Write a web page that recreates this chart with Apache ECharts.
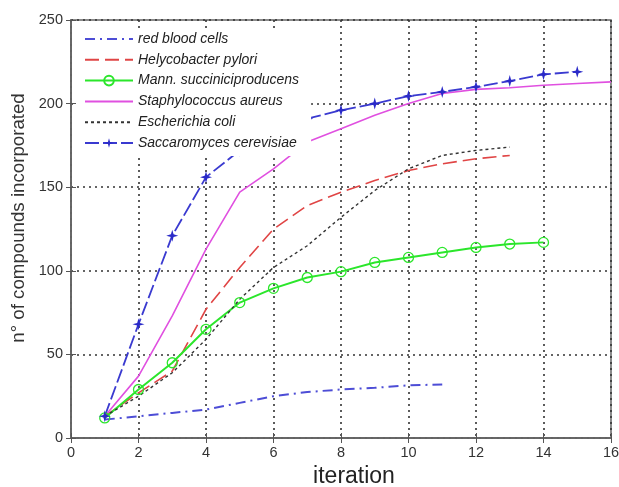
<!DOCTYPE html>
<html>
<head>
<meta charset="utf-8">
<script src="https://cdn.jsdelivr.net/npm/echarts@6/dist/echarts.min.js"></script>
<style>html,body{margin:0;padding:0;background:#fff}#c{width:619px;height:487px}</style>
</head>
<body>
<div id="c"></div>
<script>
var xTicks = [0, 2, 4, 6, 8, 10, 12, 14, 16];
var yTicks = [0, 50, 100, 150, 200, 250];
var seriesNames = ["red blood cells", "Helycobacter pylori", "Mann. succiniciproducens", "Staphylococcus aureus", "Escherichia coli", "Saccaromyces cerevisiae"];
var redBloodCells = [11, 13, 15, 17, 21, 25, 27.5, 29, 30, 31.5, 32];
var helycobacter = [13, 27, 40, 77, 102, 125, 139, 147, 154, 160, 164, 167, 169];
var mannheimia = [12, 29, 45, 65, 81, 89.5, 96, 99.5, 105, 108, 111, 114, 116, 117];
var staphylococcus = [13, 37, 73, 113, 147, 161, 177, 185, 193, 200, 206, 208.5, 209.5, 211, 212, 213];
var escherichia = [13, 25, 39, 59, 83, 102, 115, 132, 148, 161, 169, 172, 174];
var saccaromyces = [13, 68, 121, 156, 172, 183, 191, 196, 200, 204.5, 207, 210, 213.5, 217.5, 219];

function pairs(arr) { return arr.map(function (v, i) { return [i + 1, v]; }); }

var font = "'Liberation Sans', Arial, sans-serif";
var star = 'path://M0,-10 L2.2,-2.2 L10,0 L2.2,2.2 L0,10 L-2.2,2.2 L-10,0 L-2.2,-2.2 Z';
var hidden = { color: 'rgba(0,0,0,0)', borderWidth: 0 };

var chart = echarts.init(document.getElementById('c'));
chart.setOption({
  animation: false,
  backgroundColor: '#fff',
  textStyle: { fontFamily: font },
  grid: { left: 71, right: 8, top: 20, bottom: 49, show: true, borderColor: '#666', borderWidth: 1.5,
    backgroundColor: 'transparent', outerBoundsMode: 'none', containLabel: false },
  legend: {
    orient: 'vertical', left: 76, top: 28, itemWidth: 48, itemHeight: 12, itemGap: 6.8,
    backgroundColor: '#fff', padding: [4, 12, 6, 8],
    textStyle: { fontStyle: 'italic', fontSize: 14, color: '#222', fontFamily: font },
    data: seriesNames
  },
  xAxis: [{
    type: 'value', min: xTicks[0], max: xTicks[xTicks.length - 1], interval: 2,
    name: 'iteration', nameLocation: 'middle', nameGap: 26,
    nameTextStyle: { fontSize: 23, color: '#222', fontFamily: font, padding: [0, 0, 0, 26] },
    axisLine: { show: true, lineStyle: { color: '#666', width: 1.5 } },
    axisTick: { show: true, inside: true, length: 5, lineStyle: { color: '#555' } },
    axisLabel: { color: '#333', fontSize: 14.5, margin: 7 },
    splitLine: { show: true, lineStyle: { type: [2, 4], color: '#333', width: 1.6 } }
  }, {
    type: 'value', position: 'top', min: xTicks[0], max: xTicks[xTicks.length - 1], interval: 2,
    axisLine: { show: true, lineStyle: { color: '#666', width: 1.5 } },
    axisTick: { show: true, inside: true, length: 5, lineStyle: { color: '#555' } },
    axisLabel: { show: false }, splitLine: { show: false }
  }],
  yAxis: [{
    type: 'value', min: yTicks[0], max: yTicks[yTicks.length - 1], interval: 50,
    name: 'n° of compounds incorporated', nameLocation: 'middle', nameGap: 27,
    nameTextStyle: { fontSize: 18.7, color: '#333', fontFamily: font, padding: [0, 0, 0, 22] },
    axisLine: { show: true, lineStyle: { color: '#666', width: 1.5 } },
    axisTick: { show: true, inside: true, length: 5, lineStyle: { color: '#555' } },
    axisLabel: { color: '#333', fontSize: 14.5, margin: 8 },
    splitLine: { show: true, lineStyle: { type: [2, 4], color: '#333', width: 1.6 } }
  }, {
    type: 'value', position: 'right', min: yTicks[0], max: yTicks[yTicks.length - 1], interval: 50,
    axisLine: { show: true, lineStyle: { color: '#666', width: 1.5 } },
    axisTick: { show: true, inside: true, length: 5, lineStyle: { color: '#555' } },
    axisLabel: { show: false }, splitLine: { show: false }
  }],
  series: [
    { name: seriesNames[0], type: 'line', data: pairs(redBloodCells), symbol: 'circle', showSymbol: false, color: '#4d4dd6',
      itemStyle: hidden, lineStyle: { color: '#4d4dd6', width: 2, type: [10, 5, 2, 5] }, z: 3 },
    { name: seriesNames[1], type: 'line', data: pairs(helycobacter), symbol: 'circle', showSymbol: false, color: '#e04545',
      itemStyle: hidden, lineStyle: { color: '#e04545', width: 1.6, type: [14, 6] }, z: 3 },
    { name: seriesNames[2], type: 'line', data: pairs(mannheimia), symbol: 'circle', symbolSize: 10, color: '#2be62b',
      itemStyle: { color: 'rgba(255,255,255,0)', borderColor: '#2be62b', borderWidth: 1.3 },
      lineStyle: { color: '#2be62b', width: 2 }, z: 3 },
    { name: seriesNames[3], type: 'line', data: pairs(staphylococcus), symbol: 'circle', showSymbol: false, color: '#e050e0',
      itemStyle: hidden, lineStyle: { color: '#e050e0', width: 1.6 }, z: 3 },
    { name: seriesNames[4], type: 'line', data: pairs(escherichia), symbol: 'circle', showSymbol: false, color: '#333',
      itemStyle: hidden, lineStyle: { color: '#333', width: 1.4, type: [3, 3] }, z: 3 },
    { name: seriesNames[5], type: 'line', data: pairs(saccaromyces), symbol: star, symbolSize: 12, color: '#2a2ac8',
      itemStyle: { color: '#2a2ac8' },
      lineStyle: { color: '#3a3ad0', width: 1.8, type: [14, 4] }, z: 3 }
  ]
});
</script>
</body>
</html>
